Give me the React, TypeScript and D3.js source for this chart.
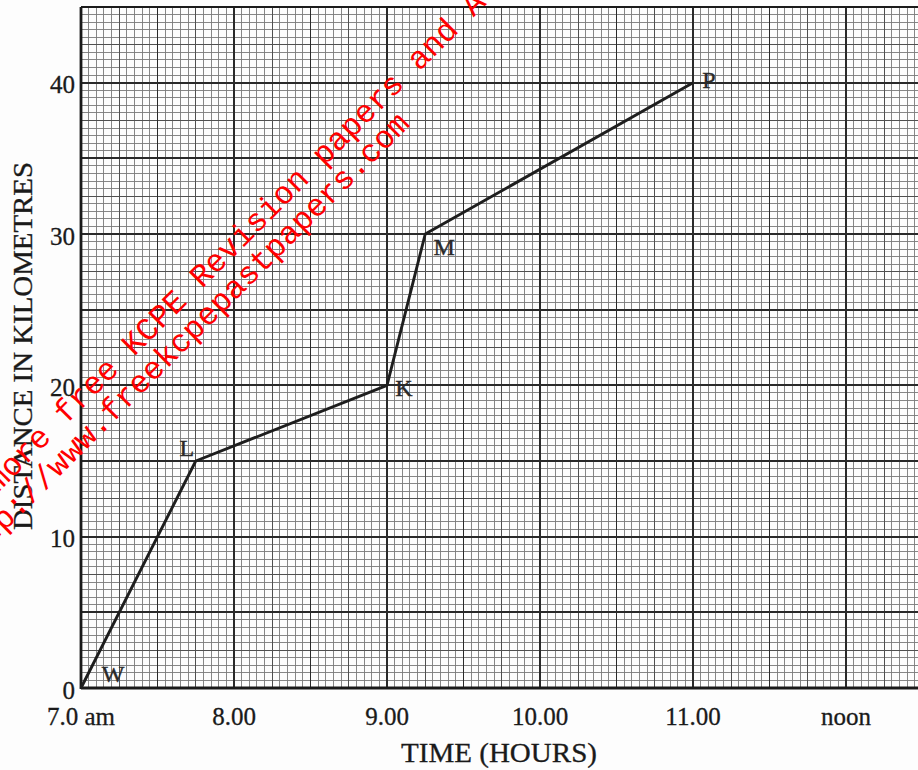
import * as d3 from 'd3'

// journey: time of day (hours) vs distance from W (km)
const TIMES = [7.0, 7.75, 9.0, 9.25, 11.0]
const DISTANCES = [0, 15, 20, 30, 40]
const POINT_NAMES = ['W', 'L', 'K', 'M', 'P']

const X_TICKS = [7, 8, 9, 10, 11, 12]
const X_TICK_LABELS = ['7.0 am', '8.00', '9.00', '10.00', '11.00', 'noon']
const Y_TICKS = [0, 10, 20, 30, 40]

const WATERMARK = [
  'Download more free KCPE Revision papers and All',
  'http://www.freekcpepastpapers.com',
]

// label nudges relative to each plotted point (px)
const LABEL_OFFSETS: [number, number][] = [
  [32, -14],
  [-9, -13],
  [17, 3],
  [19, 13],
  [16, -3],
]

const W = 918
const H = 770
const SERIF = '"Liberation Serif", "Times New Roman", serif'

export default function App() {
  const x = d3.scaleLinear().domain([7, 12.5]).range([81, 922.5])
  const y = d3.scaleLinear().domain([0, 45]).range([688, 7])

  // graph paper: 10 small squares per major square, medium line at 5
  const xGrid = d3.range(0, 111).map((i) => ({ v: 7 + i * 0.05, k: i % 10 === 0 ? 2 : i % 5 === 0 ? 1 : 0 }))
  const yGrid = d3.range(0, 91).map((i) => ({ v: i * 0.5, k: i % 10 === 0 ? 2 : i % 5 === 0 ? 1 : 0 }))
  const stroke = ['#7a7a7a', '#505050', '#2a2a2a']
  const width = [0.9, 1.2, 1.9]

  const [x0, x1] = x.range()
  const [y0, y1] = y.range()

  const line = d3
    .line<number>()
    .x((_, i) => x(TIMES[i]))
    .y((d) => y(d))

  return (
    <svg
      width={W}
      height={H}
      style={{ position: 'absolute', left: 0, top: 0, background: '#fff' }}
    >
      <rect width={W} height={H} fill="#fdfdfd" />

      {/* grid */}
      <g shapeRendering="crispEdges">
        {[0, 1, 2].map((k) => (
          <g key={k} stroke={stroke[k]} strokeWidth={width[k]}>
            {xGrid
              .filter((g) => g.k === k)
              .map((g) => (
                <line key={'x' + g.v} x1={x(g.v)} x2={x(g.v)} y1={y0} y2={y1} />
              ))}
            {yGrid
              .filter((g) => g.k === k)
              .map((g) => (
                <line key={'y' + g.v} x1={x0} x2={x1} y1={y(g.v)} y2={y(g.v)} />
              ))}
          </g>
        ))}
      </g>

      {/* axes */}
      <g stroke="#1a1a1a" strokeWidth={2.8}>
        <line x1={x0} x2={x0} y1={y0 + 1} y2={y1} />
        <line x1={x0} x2={x1} y1={y0} y2={y0} />
        <line x1={x0} x2={x1} y1={y1} y2={y1} strokeWidth={2.2} />
      </g>

      {/* journey */}
      <path d={line(DISTANCES) ?? ''} fill="none" stroke="#1e1e1e" strokeWidth={2.9} strokeLinejoin="round" />
      {DISTANCES.map((d, i) => (
        <text
          key={POINT_NAMES[i]}
          x={x(TIMES[i]) + LABEL_OFFSETS[i][0]}
          y={y(d) + LABEL_OFFSETS[i][1]}
          textAnchor="middle"
          dominantBaseline="central"
          fontFamily={SERIF}
          fontSize={24}
          fill="#2a2a2a"
          stroke="#2a2a2a"
          strokeWidth={0.4}
        >
          {POINT_NAMES[i]}
        </text>
      ))}

      {/* tick labels */}
      <g fontFamily={SERIF} fill="#1a1a1a" stroke="#1a1a1a" strokeWidth={0.3}>
        {Y_TICKS.map((t) => (
          <text key={t} x={75} y={y(t) + 2} textAnchor="end" dominantBaseline="central" fontSize={25}>
            {t}
          </text>
        ))}
        {X_TICKS.map((t, i) => (
          <text key={t} x={x(t)} y={725} textAnchor="middle" fontSize={25}>
            {X_TICK_LABELS[i]}
          </text>
        ))}
        <text x={499} y={762} textAnchor="middle" fontSize={27} textLength={196} lengthAdjust="spacingAndGlyphs">
          TIME (HOURS)
        </text>
        <text
          transform="translate(32,346) rotate(-90)"
          textAnchor="middle"
          fontSize={27}
          textLength={368}
          lengthAdjust="spacingAndGlyphs"
        >
          DISTANCE IN KILOMETRES
        </text>
      </g>

      {/* watermark */}
      <g fontFamily='"Liberation Mono", "Courier New", monospace' fontSize={32} fill="#ff0000">
        <text transform="translate(-124,615) rotate(-45)">{WATERMARK[0]}</text>
        <text transform="translate(-37,573) rotate(-45)">{WATERMARK[1]}</text>
      </g>
    </svg>
  )
}
